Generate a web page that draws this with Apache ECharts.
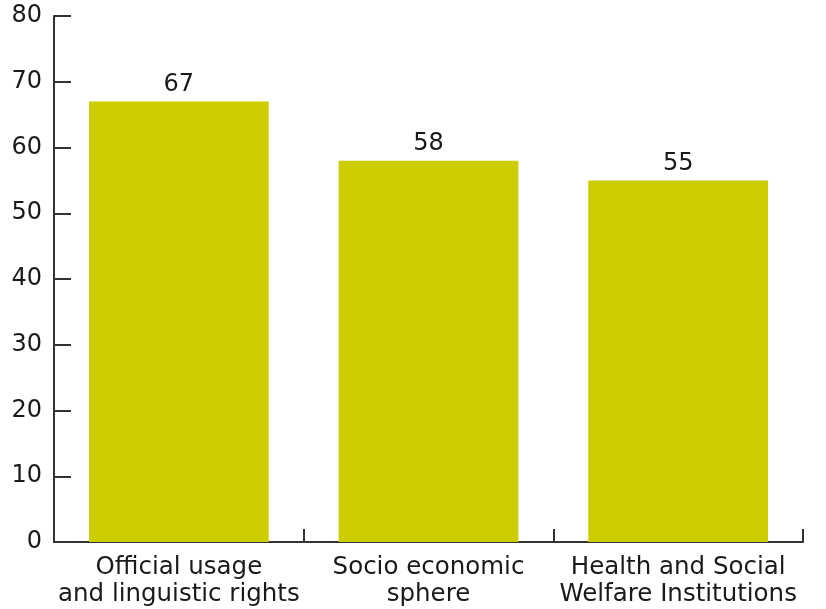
<!DOCTYPE html>
<html>
<head>
<meta charset="utf-8">
<script src="https://cdn.jsdelivr.net/npm/echarts@6/dist/echarts.min.js"></script>
<style>
  html, body { margin: 0; padding: 0; background: #fff; }
  #chart { width: 826px; height: 609px; }
</style>
</head>
<body>
<div id="chart"></div>
<script>
// Categories (two-line labels) and their scores
const categories = [
  'Official usage\nand linguistic rights',
  'Socio economic\nsphere',
  'Health and Social\nWelfare Institutions'
];
const values = [67, 58, 55];
const yTicks = { min: 0, max: 80, step: 10 };

const FONT = 'DejaVu Sans, Verdana, sans-serif';
const TEXT = '#1a1a1a';
const chart = echarts.init(document.getElementById('chart'));

chart.setOption({
  animation: false,
  backgroundColor: '#ffffff',
  grid: { left: 54, right: 23, top: 16, bottom: 67, containLabel: false },
  xAxis: {
    type: 'category',
    data: categories,
    axisLine: { show: true, lineStyle: { color: '#333', width: 2 } },
    axisTick: { show: true, inside: true, length: 13, alignWithLabel: false,
                lineStyle: { color: '#333', width: 2 } },
    axisLabel: { color: TEXT, fontFamily: FONT, fontSize: 24.5, lineHeight: 27,
                 margin: 12, interval: 0 }
  },
  yAxis: {
    type: 'value',
    min: yTicks.min, max: yTicks.max, interval: yTicks.step,
    splitLine: { show: false },
    axisLine: { show: true, lineStyle: { color: '#333', width: 2 } },
    axisTick: { show: true, inside: true, length: 17, lineStyle: { color: '#333', width: 2 } },
    axisLabel: { color: TEXT, fontFamily: FONT, fontSize: 24, margin: 12 }
  },
  series: [{
    type: 'bar',
    data: values,
    barCategoryGap: '28%',
    itemStyle: { color: '#CCCC00' },
    label: { show: true, position: 'top', distance: 5, color: TEXT,
             fontFamily: FONT, fontSize: 24 }
  }]
});
</script>
</body>
</html>
